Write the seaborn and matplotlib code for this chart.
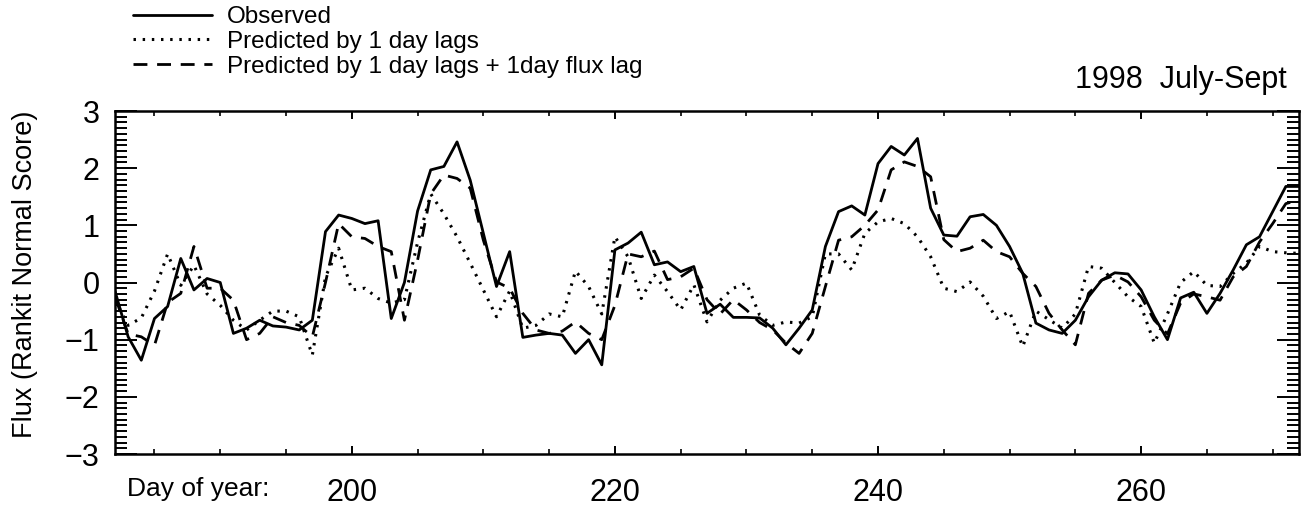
import numpy as np
import pandas as pd
import matplotlib
matplotlib.use("Agg")
import matplotlib.pyplot as plt
from matplotlib.lines import Line2D
import seaborn as sns

# ---- data -------------------------------------------------------------
days = list(range(182, 273))

observed = [
    -0.15, -0.95, -1.36, -0.63, -0.42, 0.42, -0.13, 0.07, 0.00, -0.89,
    -0.80, -0.66, -0.76, -0.78, -0.83, -0.66, 0.89, 1.18, 1.12, 1.03,
    1.08, -0.63, 0.00, 1.25, 1.97, 2.03, 2.46, 1.79, 0.86, -0.07,
    0.54, -0.96, -0.92, -0.89, -0.92, -1.24, -1.00, -1.44, 0.57, 0.69,
    0.88, 0.31, 0.36, 0.19, 0.28, -0.54, -0.38, -0.61, -0.61, -0.62,
    -0.80, -1.09, -0.80, -0.48, 0.63, 1.24, 1.34, 1.18, 2.08, 2.38,
    2.23, 2.52, 1.30, 0.83, 0.81, 1.15, 1.19, 1.00, 0.63, 0.16,
    -0.71, -0.83, -0.89, -0.66, -0.25, 0.04, 0.17, 0.15, -0.13, -0.60,
    -1.00, -0.27, -0.17, -0.54, -0.19, 0.22, 0.66, 0.80, 1.24, 1.68,
    1.68,
]

pred_lags = [
    -0.30, -0.75, -0.62, -0.15, 0.50, -0.05, 0.30, -0.20, -0.40, -0.66,
    -0.83, -0.66, -0.50, -0.50, -0.60, -1.27, 0.10, 0.60, -0.13, -0.10,
    -0.28, -0.36, -0.30, 0.70, 1.55, 1.20, 0.80, 0.34, -0.13, -0.60,
    -0.15, -0.80, -0.75, -0.55, -0.60, 0.20, -0.07, -0.55, 0.80, 0.45,
    -0.28, 0.13, -0.16, -0.48, -0.04, -0.69, -0.31, -0.10, -0.01, -0.57,
    -0.75, -0.69, -0.71, -0.60, 0.50, 0.50, 0.22, 0.86, 1.06, 1.12,
    1.03, 0.80, 0.45, -0.10, -0.16, 0.01, -0.24, -0.63, -0.51, -1.12,
    -0.50, -0.65, -0.80, -0.55, 0.28, 0.25, 0.00, -0.25, -0.42, -1.06,
    -0.55, 0.00, 0.19, -0.05, -0.07, 0.16, 0.34, 0.63, 0.54, 0.52,
    0.51,
]

pred_lags_flux = [
    -0.25, -0.90, -0.95, -1.10, -0.35, -0.19, 0.63, -0.10, -0.10, -0.31,
    -1.00, -0.89, -0.60, -0.70, -0.75, -0.95, 0.00, 1.03, 0.80, 0.77,
    0.63, 0.54, -0.66, 0.39, 1.55, 1.88, 1.82, 1.65, 0.74, 0.01,
    -0.10, -0.54, -0.83, -0.89, -0.85, -0.69, -0.89, -1.00, -0.40, 0.50,
    0.45, 0.55, 0.05, 0.10, 0.25, -0.30, -0.55, -0.30, -0.48, -0.70,
    -0.83, -1.06, -1.24, -0.89, -0.07, 0.74, 0.80, 1.00, 1.27, 1.97,
    2.11, 2.03, 1.85, 0.75, 0.54, 0.60, 0.74, 0.54, 0.45, 0.16,
    -0.07, -0.54, -0.83, -1.09, -0.19, 0.04, 0.13, 0.01, -0.25, -0.66,
    -0.90, -0.36, -0.20, -0.25, -0.31, 0.10, 0.28, 0.71, 1.03, 1.38,
    1.44,
]

legend_labels = ["Observed", "Predicted by 1 day lags",
                 "Predicted by 1 day lags + 1day flux lag"]
x_major_ticks = [200, 220, 240, 260]
y_major_ticks = [-3, -2, -1, 0, 1, 2, 3]
title_text = "1998  July-Sept"
xlabel_text = "Day of year:"
ylabel_text = "Flux (Rankit Normal Score)"

# ---- style ------------------------------------------------------------
sns.set_style("ticks")
plt.rcParams["font.family"] = ["Liberation Sans", "DejaVu Sans"]
plt.rcParams["text.color"] = "black"
plt.rcParams["axes.labelcolor"] = "black"
plt.rcParams["xtick.color"] = "black"
plt.rcParams["ytick.color"] = "black"
plt.rcParams["xtick.labelcolor"] = "black"
plt.rcParams["ytick.labelcolor"] = "black"

W, H = 1302, 507
fig = plt.figure(figsize=(W / 100, H / 100), dpi=100)
ax = fig.add_axes([115 / W, 1 - 454 / H, (1299 - 115) / W, (454 - 111) / H])

df = pd.DataFrame({"day": days, "obs": observed,
                   "p1": pred_lags, "p2": pred_lags_flux})

sns.lineplot(data=df, x="day", y="obs", ax=ax, color="black",
             linewidth=2.0, linestyle="-")
sns.lineplot(data=df, x="day", y="p1", ax=ax, color="black",
             linewidth=2.2, linestyle=(0, (0.8, 2.2)))
sns.lineplot(data=df, x="day", y="p2", ax=ax, color="black",
             linewidth=2.0, linestyle=(0, (5, 3.5)))

ax.set_xlim(182, 272)
ax.set_ylim(-3, 3)
ax.set_xticks(x_major_ticks)
ax.set_xticks(np.arange(185, 272, 5), minor=True)
ax.set_yticks(y_major_ticks)
ax.set_yticks(np.arange(-3, 3.001, 0.1), minor=True)

for s in ax.spines.values():
    s.set_linewidth(1.8)
    s.set_color("black")
    s.set_visible(True)

ax.tick_params(which="both", direction="in", top=True, right=True,
               color="black", labelcolor="black")
ax.tick_params(axis="y", which="major", length=16, width=1.4, pad=11, labelsize=22)
ax.tick_params(axis="y", which="minor", length=8.5, width=1.4)
ax.tick_params(axis="x", which="major", length=6, width=1.4, pad=17, labelsize=22)
ax.tick_params(axis="x", which="minor", length=3.5, width=1.2)

ax.set_xlabel("")
ax.set_ylabel(ylabel_text, fontsize=19.5, color="black")
ax.yaxis.set_label_coords((38 - 115) / (1299 - 115), 0.525)

fig.text(127 / W, 1 - 477 / H, xlabel_text, fontsize=19, ha="left", va="top",
         color="black")
fig.text(1287 / W, 1 - 88 / H, title_text, fontsize=22, ha="right",
         va="baseline", color="black")

handles = [
    Line2D([], [], color="black", lw=2.0, ls="-"),
    Line2D([], [], color="black", lw=2.2, ls=(0, (0.8, 2.2))),
    Line2D([], [], color="black", lw=2.0, ls=(0, (5, 3.5))),
]
leg = fig.legend(handles, legend_labels, loc="upper left",
                 bbox_to_anchor=(133 / W, 1 - 6 / H), frameon=False,
                 fontsize=17.5, handlelength=3.25, handletextpad=0.6,
                 labelspacing=0.12, borderpad=0, borderaxespad=0)
for t in leg.get_texts():
    t.set_color("black")

fig.savefig("out.png", dpi=100)
